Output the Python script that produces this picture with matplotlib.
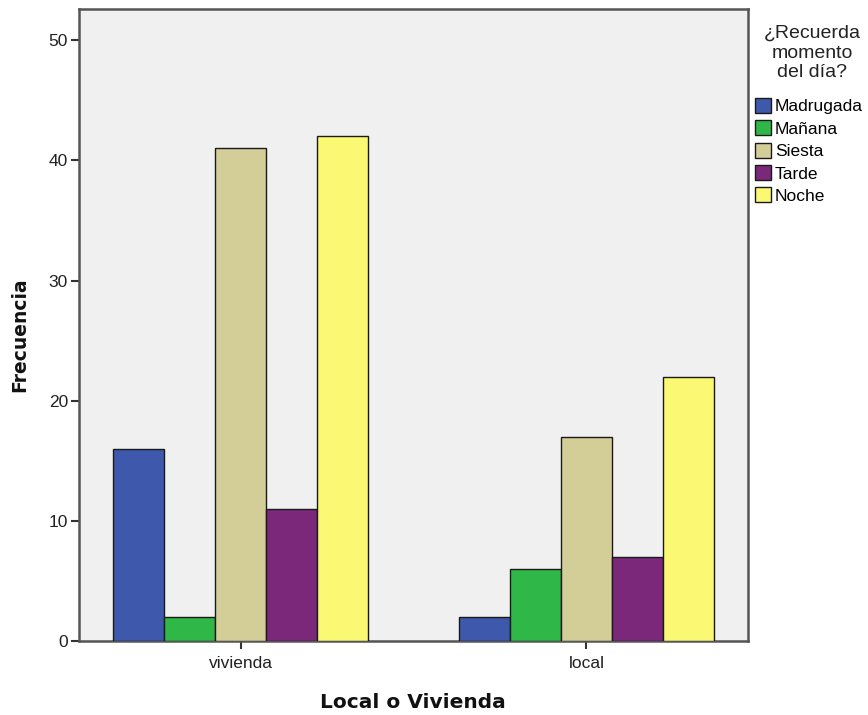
import matplotlib
matplotlib.use("Agg")
import matplotlib.pyplot as plt
import numpy as np
from matplotlib.patches import Patch

categories = ["vivienda", "local"]
series_names = ["Madrugada", "Mañana", "Siesta", "Tarde", "Noche"]
values = {
    "Madrugada": [16, 2],
    "Mañana": [2, 6],
    "Siesta": [41, 17],
    "Tarde": [11, 7],
    "Noche": [42, 22],
}
colors = ["#3E58AC", "#2FB848", "#D3CE97", "#7B287B", "#FBF873"]
yticks = [0, 10, 20, 30, 40, 50]

fig = plt.figure(figsize=(8.68, 7.15), dpi=100)
ax = fig.add_axes([79/868, 1-641/715, (748-79)/868, (641-9)/715])
ax.set_facecolor("#F0F0F0")

x = np.arange(len(categories))
w = 0.1474
for i, name in enumerate(series_names):
    ax.bar(x + (i - 2) * w, values[name], width=w, color=colors[i],
           edgecolor="#1a1a1a", linewidth=1.0, zorder=3)

ax.set_xlim(-0.467, 1.467)
ax.set_ylim(0, 52.6)
ax.set_xticks(x)
ax.set_xticklabels(categories, fontsize=12.5, family="Liberation Sans", color="#222222")
ax.set_yticks(yticks)
ax.set_yticklabels([str(v) for v in yticks], fontsize=12.5, family="Liberation Sans", color="#222222")
ax.tick_params(axis="both", direction="out", length=6, width=1.5, color="#333333", pad=2)
ax.tick_params(axis="x", pad=5)
for s in ax.spines.values():
    s.set_color("#555555")
    s.set_linewidth(1.8)

fig.text(413/868, 1-703/715, "Local o Vivienda", ha="center", va="center",
         fontsize=14.5, fontweight="bold", family="DejaVu Sans", color="#111111")
fig.text(20/868, 1-335/715, "Frecuencia", ha="center", va="center", rotation=90,
         fontsize=13.5, fontweight="bold", family="DejaVu Sans", color="#111111")

fig.text(812/868, 1-53/715, "¿Recuerda\nmomento\ndel día?", ha="center", va="center",
         fontsize=14, family="Liberation Sans", color="#222222", linespacing=1.2)

handles = [Patch(facecolor=c, edgecolor="#1a1a1a", linewidth=1.0) for c in colors]
leg = fig.legend(handles, series_names, loc="upper left",
                 bbox_to_anchor=(755/868, 1-98/715), frameon=False,
                 prop={"family": "Liberation Sans", "size": 12.5},
                 handlelength=0.95, handleheight=0.95, handletextpad=0.2,
                 labelspacing=0.34, borderpad=0, borderaxespad=0)

fig.savefig("out.png", dpi=100)
